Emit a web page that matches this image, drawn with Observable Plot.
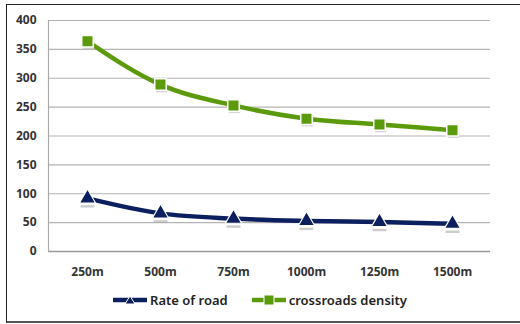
<!DOCTYPE html>
<html>
<head>
<meta charset="utf-8">
<script src="https://cdn.jsdelivr.net/npm/d3@7"></script>
<script src="https://cdn.jsdelivr.net/npm/@observablehq/plot@0.6"></script>
<style>
  html, body { margin: 0; padding: 0; background: #fff; }
  #wrap { position: relative; width: 520px; height: 324px; overflow: hidden; font-family: "Noto Sans", sans-serif; }
  #border { position: absolute; left: 6px; top: 4px; width: 520px; height: 316px; border-top: 1.5px solid #222; border-left: 1.5px solid #222; border-bottom: 2px solid #555; box-sizing: content-box; pointer-events: none; }
  #chart { position: absolute; left: 0; top: 0; }
  #legend { position: absolute; left: 0; top: 290px; width: 520px; height: 20px; display: flex; justify-content: center; align-items: center; font-size: 13px; font-weight: 600; color: #222; }
  .item { display: flex; align-items: center; margin: 0 12px; }
  .item svg { margin-right: 3px; }
</style>
</head>
<body>
<div id="wrap">
  <div id="chart"></div>
  <div id="legend"></div>
  <div id="border"></div>
</div>
<script>
const categories = ["250m", "500m", "750m", "1000m", "1250m", "1500m"];
const rateOfRoad = [92, 66, 57, 53, 51, 48];
const crossroadsDensity = [364, 289, 253, 230, 220, 210];
const yTicks = [0, 50, 100, 150, 200, 250, 300, 350, 400];
const seriesNames = ["Rate of road", "crossroads density"];
const seriesColors = ["#0c1f5e", "#5b9a0a"];

const rows = [];
categories.forEach((c, i) => {
  rows.push({cat: c, value: rateOfRoad[i], series: seriesNames[0]});
  rows.push({cat: c, value: crossroadsDensity[i], series: seriesNames[1]});
});
const blue = rows.filter(d => d.series === seriesNames[0]);
const green = rows.filter(d => d.series === seriesNames[1]);

const barSymbol = {
  draw(context, size) {
    const w = 7;
    context.moveTo(-w, -1.2);
    context.lineTo(w, -1.2);
    context.lineTo(w, 1.2);
    context.lineTo(-w, 1.2);
    context.closePath();
  }
};

const chart = Plot.plot({
  width: 520,
  height: 290,
  marginLeft: 48,
  marginRight: 30,
  marginTop: 20,
  marginBottom: 39,
  style: {fontFamily: "Noto Sans, sans-serif", fontSize: "12px", fontWeight: "bold", color: "#333", background: "transparent"},
  x: {type: "point", domain: categories, padding: 0.5, label: null},
  y: {domain: [0, 400], label: null},
  marks: [
    Plot.ruleY(yTicks, {stroke: "#b3b3b3", strokeWidth: 1.2}),
    Plot.ruleY([0], {stroke: "#999", strokeWidth: 1.5}),
    Plot.frame({anchor: "left", stroke: "#aaa", strokeWidth: 1.2}),
    Plot.axisY({ticks: yTicks, tickSize: 0, tickPadding: 12, fontSize: 12, fontWeight: "bold", fill: "#333"}),
    Plot.axisX({tickSize: 0, tickPadding: 16, fontSize: 12, fontWeight: "bold", fill: "#333"}),
    Plot.line(green, {x: "cat", y: "value", stroke: seriesColors[1], strokeWidth: 4.5, curve: "monotone-x"}),
    Plot.line(blue, {x: "cat", y: "value", stroke: seriesColors[0], strokeWidth: 4.5, curve: "monotone-x"}),
    Plot.dot(green, {x: "cat", y: "value", symbol: "square", r: 6.5, fill: "#bbb", dx: 1, dy: 2, opacity: 0.6}),
    Plot.dot(green, {x: "cat", y: "value", symbol: "square", r: 6.5, fill: seriesColors[1], stroke: "#fff", strokeWidth: 1.5}),
    Plot.dot(blue, {x: "cat", y: "value", symbol: barSymbol, fill: "#aaa", dy: 8, opacity: 0.6}),
    Plot.dot(blue, {x: "cat", y: "value", symbol: "triangle", r: 6, fill: seriesColors[0], stroke: "#fff", strokeWidth: 1.2})
  ]
});
document.getElementById("chart").appendChild(chart);

const legend = document.getElementById("legend");
seriesNames.forEach((name, i) => {
  const item = document.createElement("div");
  item.className = "item";
  const marker = i === 0
    ? `<path d="M17,3 L22,11 L12,11 Z" fill="${seriesColors[0]}" stroke="#fff" stroke-width="1"/>`
    : `<rect x="12" y="2" width="10" height="10" fill="${seriesColors[1]}" stroke="#fff" stroke-width="1"/>`;
  item.innerHTML = `<svg width="34" height="14"><line x1="0" y1="7" x2="34" y2="7" stroke="${seriesColors[i]}" stroke-width="4.5" stroke-linecap="round"/>${marker}</svg><span>${name}</span>`;
  legend.appendChild(item);
});
</script>
</body>
</html>
